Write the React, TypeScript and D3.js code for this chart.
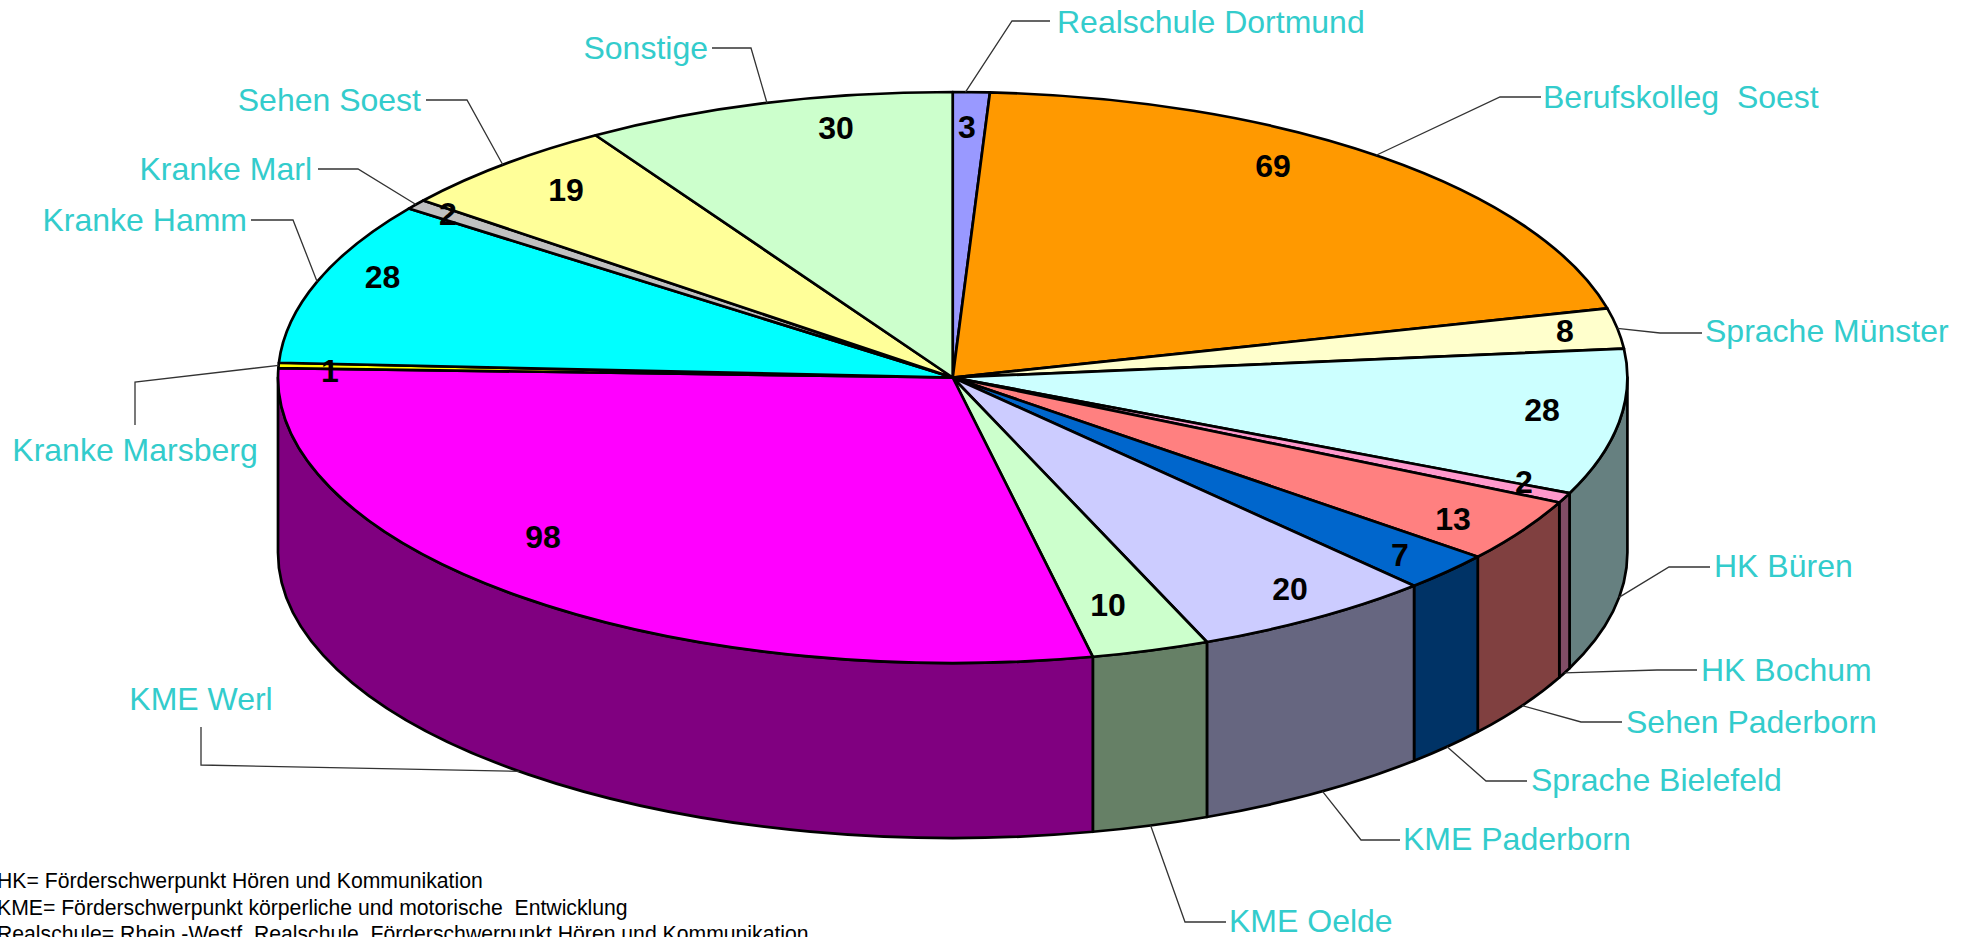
import React from "react";
import * as d3 from "d3";

const categories = ["Realschule Dortmund","Berufskolleg  Soest","Sprache Münster","HK Büren","HK Bochum","Sehen Paderborn","Sprache Bielefeld","KME Paderborn","KME Oelde","KME Werl","Kranke Marsberg","Kranke Hamm","Kranke Marl","Sehen Soest","Sonstige"];
const values = [3,69,8,28,2,13,7,20,10,98,1,28,2,19,30];
const colors = ["#9999FF","#FF9900","#FFFFCC","#CCFFFF","#FF99CC","#FF8080","#0066CC","#CCCCFF","#CCFFCC","#FF00FF","#FFFF00","#00FFFF","#C0C0C0","#FFFF99","#CCFFCC"];
const notes = ["HK= Förderschwerpunkt Hören und Kommunikation","KME= Förderschwerpunkt körperliche und motorische  Entwicklung","Realschule= Rhein.-Westf. Realschule, Förderschwerpunkt Hören und Kommunikation"];

// layout, separate from the data
const W = 1972, H = 937;
const cx = 952.7, cy = 377.5, rx = 674.7, ry = 285.5, depth = 175;
const warp = d3.scaleLinear()
  .domain([0,76.7,85.2,115.03,117.2,131,138.5,159.8,170.4,275.9,305.7,307.8,328,360])
  .range([0,76,84.2,113.9,116,128.9,136.9,157.9,168,273,306.3,308.3,328,360]);
type Lab = { vx:number; vy:number; tx:number; ty:number; anchor:string; side:"top"|"bottom"; nudge?:number; via:[number,number][] };
const layout: Lab[] = [
  {vx:967,vy:127,tx:1057,ty:22,anchor:"start",side:"top",nudge:-0.5,via:[[1012,21],[1050,21]]},
  {vx:1273,vy:166,tx:1543,ty:97,anchor:"start",side:"top",nudge:-0.7,via:[[1500,97],[1541,97]]},
  {vx:1565,vy:331,tx:1705,ty:331,anchor:"start",side:"top",via:[[1660,333],[1702,333]]},
  {vx:1542,vy:410,tx:1714,ty:566,anchor:"start",side:"bottom",via:[[1669,567],[1710,567]]},
  {vx:1524,vy:482,tx:1701,ty:670,anchor:"start",side:"bottom",via:[[1657,670],[1697,670]]},
  {vx:1453,vy:519,tx:1626,ty:722,anchor:"start",side:"bottom",via:[[1581,722],[1622,722]]},
  {vx:1400,vy:555,tx:1531,ty:780,anchor:"start",side:"bottom",via:[[1486,781],[1527,781]]},
  {vx:1290,vy:589,tx:1403,ty:839,anchor:"start",side:"bottom",nudge:-0.6,via:[[1361,840],[1400,840]]},
  {vx:1108,vy:605,tx:1229,ty:921,anchor:"start",side:"bottom",via:[[1185,922],[1226,922]]},
  {vx:543,vy:537,tx:201,ty:699,anchor:"middle",side:"bottom",via:[[201,765],[201,727]]},
  {vx:330,vy:371,tx:135,ty:450,anchor:"middle",side:"top",via:[[135,382],[135,425]]},
  {vx:382.5,vy:277,tx:247,ty:220,anchor:"end",side:"top",via:[[293,220],[251,220]]},
  {vx:448,vy:214,tx:312,ty:169,anchor:"end",side:"top",via:[[358,169],[318,169]]},
  {vx:566,vy:190,tx:421,ty:100,anchor:"end",side:"top",via:[[467,100],[426,100]]},
  {vx:836,vy:128,tx:708,ty:48,anchor:"end",side:"top",via:[[751,48],[712,48]]},
];

const rad = (d:number) => d*Math.PI/180;
const deg = (r:number) => r*180/Math.PI;
const arcs = d3.pie<number>().sort(null)(values).map((a,i)=>({
  i,
  start: rad(warp(deg(a.startAngle))),
  end: rad(warp(deg(a.endAngle))),
  mid: rad(warp(deg((a.startAngle+a.endAngle)/2))),
}));
const px = (a:number) => cx + rx*Math.sin(a);
const py = (a:number) => cy - ry*Math.cos(a);
const shade = (c:string) => { const k=d3.rgb(c); return d3.rgb(k.r*0.5,k.g*0.5,k.b*0.5).formatHex(); };
const arcGen = d3.arc<any>().innerRadius(0).outerRadius(rx).startAngle((d:any)=>d.start).endAngle((d:any)=>d.end);

function wall(s:number,e:number){
  const a = Math.max(s,Math.PI/2), b = Math.min(e,Math.PI*1.5);
  if (b<=a) return null;
  return `M${px(a)},${py(a)} A${rx},${ry} 0 0 1 ${px(b)},${py(b)} L${px(b)},${py(b)+depth} A${rx},${ry} 0 0 0 ${px(a)},${py(a)+depth} Z`;
}

export default function App(){
  const font = "'Liberation Sans', Arial, sans-serif";
  return (
    <svg width={W} height={H} viewBox={`0 0 ${W} ${H}`} style={{position:"absolute",left:0,top:0,display:"block",background:"#fff"}}>
      {arcs.map(a=>{
        const d = wall(a.start,a.end);
        return d ? <path key={a.i} d={d} fill={shade(colors[a.i])} stroke="#000" strokeWidth={2.7} strokeLinejoin="round"/> : null;
      })}
      <g transform={`translate(${cx},${cy}) scale(1,${ry/rx})`}>
        {arcs.map(a=>(
          <path key={a.i} d={arcGen(a) as string} fill={colors[a.i]} stroke="#000" strokeWidth={2.7} strokeLinejoin="round" vectorEffect="non-scaling-stroke"/>
        ))}
      </g>
      {arcs.map(a=>{
        const l = layout[a.i];
        const m = a.mid + rad(l.nudge ?? 0);
        const ax = px(m), ay = py(m)+(l.side==="bottom"?depth:0);
        const pts = [[ax,ay],...l.via];
        return <path key={a.i} d={d3.line()(pts as [number,number][]) as string} fill="none" stroke="#333" strokeWidth={1.3}/>;
      })}
      {arcs.map(a=>{
        const l = layout[a.i];
        return <text key={a.i} x={l.tx} y={l.ty} textAnchor={l.anchor as any} dominantBaseline="central" fontFamily={font} fontSize={32} fill="#33CCCC" xmlSpace="preserve" style={{whiteSpace:"pre"}}>{categories[a.i]}</text>;
      })}
      {arcs.map(a=>{
        const l = layout[a.i];
        return <text key={a.i} x={l.vx} y={l.vy} textAnchor="middle" dominantBaseline="central" fontFamily={font} fontWeight="bold" fontSize={32} fill="#000">{values[a.i]}</text>;
      })}
      {notes.map((n,i)=>(
        <text key={i} x={-3} y={888+i*26.5} fontFamily={font} fontSize={21.2} fill="#000" xmlSpace="preserve" style={{whiteSpace:"pre"}}>{n}</text>
      ))}
    </svg>
  );
}
